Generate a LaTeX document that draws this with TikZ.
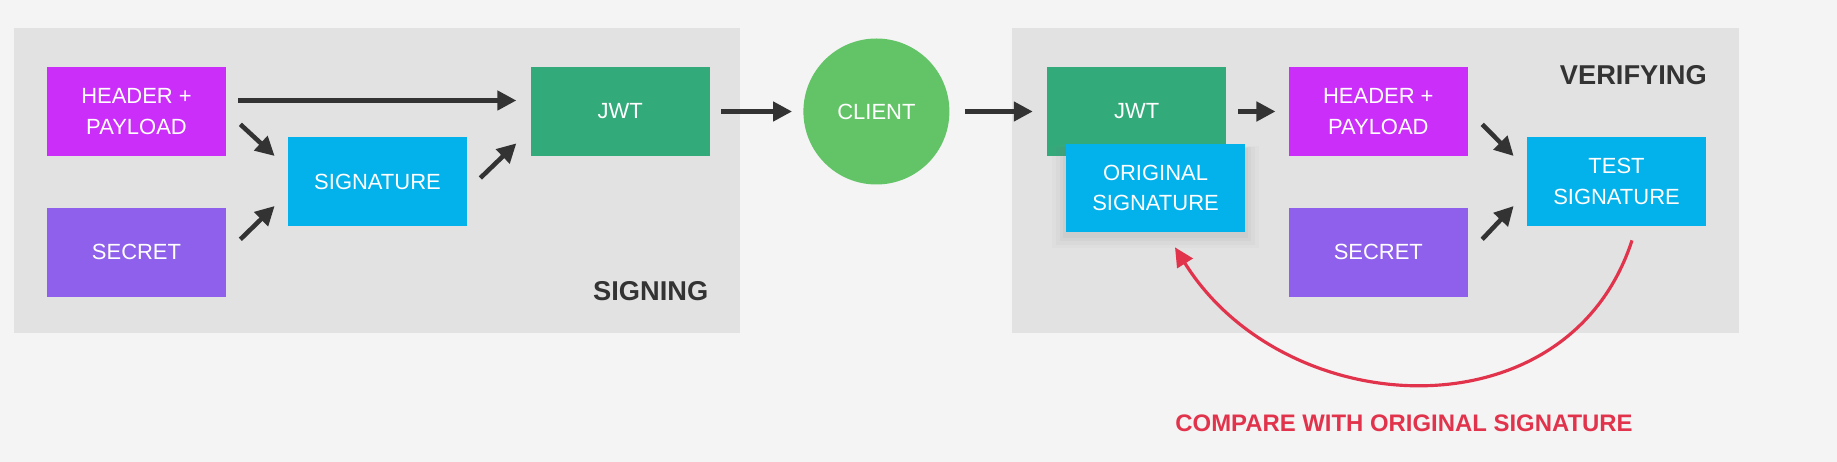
\documentclass[tikz,border=0pt]{standalone}
\usepackage{fontspec}
\setmainfont{Liberation Sans}
\usepackage{xcolor}
\usepackage{tikz}
\usetikzlibrary{positioning,arrows.meta,shadows,calc}

\definecolor{canvas}{HTML}{F4F4F4}
\definecolor{panelgray}{HTML}{E2E2E2}
\definecolor{hpmag}{HTML}{CB2EF9}
\definecolor{secpurple}{HTML}{8E60EB}
\definecolor{sigcyan}{HTML}{03B1EB}
\definecolor{jwtgreen}{HTML}{33AA7A}
\definecolor{clientgreen}{HTML}{63C467}
\definecolor{arrowgray}{HTML}{333333}
\definecolor{cmpred}{HTML}{E1344C}

\begin{document}
\begin{tikzpicture}[
  font=\fontsize{12.5}{17.5}\selectfont,
  >={Triangle[length=3.8mm, width=3.8mm]},
  box/.style={text=white, align=center, minimum width=3.58cm, minimum height=1.78cm, inner sep=2pt},
  hpbox/.style={box, fill=hpmag},
  secbox/.style={box, fill=secpurple},
  sigbox/.style={box, fill=sigcyan},
  jwtbox/.style={box, fill=jwtgreen},
  softshadow/.style={
    drop shadow={shadow xshift=0mm, shadow yshift=-1.6mm, shadow scale=1.16, opacity=0.04},
    drop shadow={shadow xshift=0mm, shadow yshift=-1.4mm, shadow scale=1.11, opacity=0.05},
    drop shadow={shadow xshift=0mm, shadow yshift=-1.2mm, shadow scale=1.07, opacity=0.06},
    drop shadow={shadow xshift=0mm, shadow yshift=-1mm, shadow scale=1.03, opacity=0.07}},
  clientnode/.style={circle, fill=clientgreen, text=white, minimum size=2.92cm, inner sep=0pt},
  panel/.style={fill=panelgray, minimum width=14.53cm, minimum height=6.1cm, inner sep=0pt},
  arr/.style={->, line width=2.6pt, draw=arrowgray},
  cmp/.style={-{Triangle[length=3.8mm, width=3.6mm]}, line width=1.8pt, draw=cmpred},
  phase/.style={font=\fontsize{15.5}{18}\selectfont\bfseries, text=arrowgray, anchor=east, inner sep=0pt}
]
\fill[canvas] (0,0) rectangle (36.74,9.24);

% ---------------- Signing ----------------
\node[panel] (signpanel) at (7.54,5.63) {};
\node[hpbox] (hp1) at (2.73,7.01) {HEADER +\\PAYLOAD};
\node[secbox, below=1.02cm of hp1] (sec1) {SECRET};
\node[sigbox] (sig1) at (7.55,5.61) {SIGNATURE};
\node[jwtbox, right=6.08cm of hp1] (jwt1) {JWT};
\node[phase] (signlbl) at ([shift={(-0.64,0.84)}]signpanel.south east) {SIGNING};
\draw[arr, shorten <=2.4mm, shorten >=2.8mm] ([yshift=2.2mm]hp1.east) -- ([yshift=2.2mm]jwt1.west);
\draw[arr] ([shift={(0.28,0.64)}]hp1.south east) -- ([shift={(-0.26,0.51)}]sig1.west);
\draw[arr] ([shift={(0.28,-0.64)}]sec1.north east) -- ([shift={(-0.26,-0.49)}]sig1.west);
\draw[arr] ([shift={(0.26,0.07)}]sig1.east) -- ([shift={(-0.28,0.26)}]jwt1.south west);

% ---------------- Client ----------------
\node[clientnode, right=1.86cm of jwt1] (client) {CLIENT};
\draw[arr, shorten <=2.2mm, shorten >=2.2mm] (jwt1) -- (client);

% ---------------- Verifying ----------------
\node[panel] (verpanel) at (27.51,5.63) {};
\node[jwtbox, right=1.94cm of client] (jwt2) {JWT};
\node[sigbox, minimum height=1.76cm, softshadow] (orig) at (23.11,5.48) {ORIGINAL\\SIGNATURE};
\node[hpbox, right=1.24cm of jwt2] (hp2) {HEADER +\\PAYLOAD};
\node[secbox, below=1.02cm of hp2] (sec2) {SECRET};
\node[sigbox] (test) at (32.33,5.61) {TEST\\SIGNATURE};
\node[phase] (verlbl) at ([shift={(-0.64,-0.94)}]verpanel.north east) {VERIFYING};
\draw[arr, shorten <=3mm, shorten >=2.8mm] (client) -- (jwt2);
\draw[arr, shorten <=2.4mm, shorten >=2.6mm] (jwt2) -- (hp2);
\draw[arr] ([shift={(0.28,0.64)}]hp2.south east) -- ([shift={(-0.26,0.51)}]test.west);
\draw[arr] ([shift={(0.28,-0.64)}]sec2.north east) -- ([shift={(-0.26,-0.49)}]test.west);

% compare loop
\draw[cmp] ([shift={(0.31,-0.28)}]test.south) to[out=-108, in=-58, looseness=1.16] ([shift={(0.39,-0.3)}]orig.south);
\node[font=\fontsize{13.6}{16}\selectfont\bfseries, text=cmpred] (cmplbl) at (28.08,0.78) {COMPARE WITH ORIGINAL SIGNATURE};
\end{tikzpicture}
\end{document}
